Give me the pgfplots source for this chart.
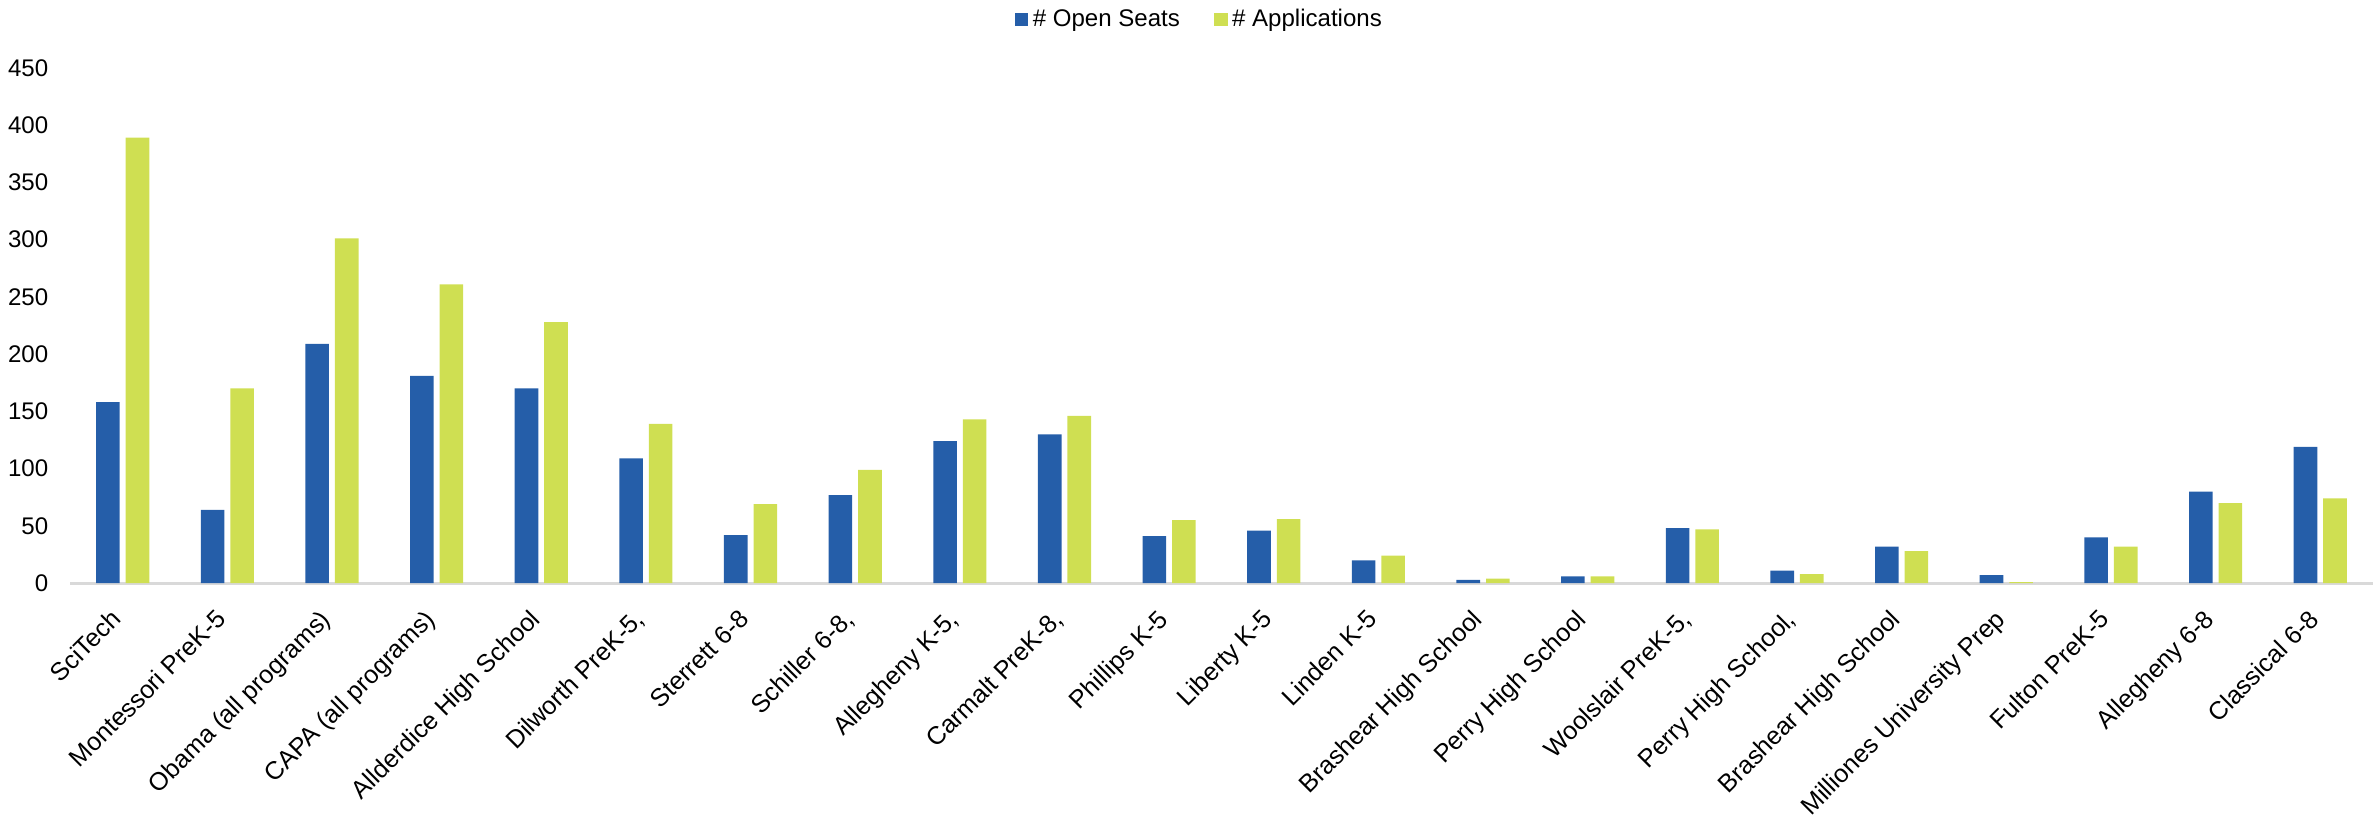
\documentclass[border=0pt]{standalone}
\usepackage{fontspec}
\setmainfont{Liberation Sans}
\usepackage{pgfplots}
\pgfplotsset{compat=1.18}
\definecolor{seatblue}{HTML}{255EA9}
\definecolor{appgreen}{HTML}{CFDF52}
\definecolor{basegray}{HTML}{D9D9D9}

\pgfplotstableread{
idx seats apps
0 158 389
1 64 170
2 209 301
3 181 261
4 170 228
5 109 139
6 42 69
7 77 99
8 124 143
9 130 146
10 41 55
11 46 56
12 20 24
13 3 4
14 6 6
15 48 47
16 11 8
17 32 28
18 7 1
19 40 32
20 80 70
21 119 74
}\schools

\begin{document}
\fontsize{10.5}{12.6}\selectfont
\begin{tikzpicture}
\begin{axis}[
    width=1005pt, height=225pt, scale only axis,
    ybar=2.6pt, bar width=10.3pt,
    xmin=-0.5, xmax=21.5, ymin=0, ymax=450,
    ytick={0,50,...,450},
    xtick={0,...,21},
    xticklabels={SciTech, Montessori PreK-5, Obama (all programs), CAPA (all programs),
        Allderdice High School, {Dilworth PreK-5,}, Sterrett 6-8, {Schiller 6-8,},
        {Allegheny K-5,}, {Carmalt PreK-8,}, Phillips K-5, Liberty K-5, Linden K-5,
        Brashear High School, Perry High School, {Woolslair PreK-5,}, {Perry High School,},
        Brashear High School, Milliones University Prep, Fulton PreK-5, Allegheny 6-8,
        Classical 6-8},
    major tick length=0pt,
    axis x line*=bottom, axis y line*=left,
    x axis line style={basegray, line width=1.3pt},
    y axis line style={draw=none},
    xticklabel style={rotate=45, anchor=north east, xshift=-8pt, yshift=0pt,
        font=\fontsize{11}{13}\selectfont},
    yticklabel style={xshift=-6pt},
    /pgf/number format/assume math mode=true,
    legend columns=2,
    legend style={at={(0.491,1)}, anchor=center, yshift=21pt, draw=none,
        /tikz/every even column/.append style={column sep=13pt}},
    legend image code/.code={\fill[#1] (0pt,-2.9pt) rectangle (5.8pt,2.9pt);},
]
\addplot[fill=seatblue, draw=none] table[x=idx, y=seats] {\schools};
\addplot[fill=appgreen, draw=none] table[x=idx, y=apps] {\schools};
\legend{\# Open Seats, \# Applications}
\end{axis}
\end{tikzpicture}
\end{document}
